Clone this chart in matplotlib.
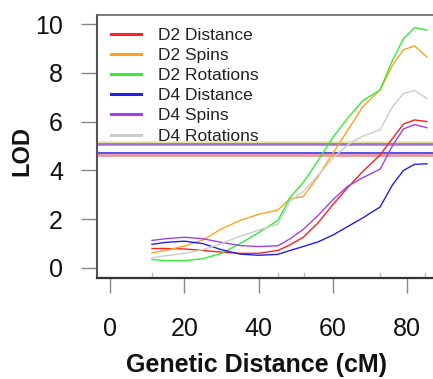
import numpy as np
import matplotlib
matplotlib.use('Agg')
import matplotlib.pyplot as plt

plt.rcParams['font.family'] = ['Liberation Sans', 'DejaVu Sans']

# positions along the chromosome (cM)
pos = [11.3, 15, 20, 25, 30, 35, 40, 45.2, 48.5, 52, 56, 60, 64, 68, 72.7, 76, 79, 82, 85.3]
markers = [11.3, 45.2, 52.1, 72.7, 84.9]

d2_dist = [0.80, 0.80, 0.78, 0.72, 0.65, 0.60, 0.60, 0.72, 0.95, 1.26, 1.85, 2.60, 3.30, 3.95, 4.63, 5.30, 5.90, 6.07, 6.00]
d2_spin = [0.62, 0.72, 0.90, 1.15, 1.60, 1.95, 2.20, 2.38, 2.85, 2.92, 3.75, 4.70, 5.65, 6.60, 7.30, 8.30, 8.95, 9.10, 8.65]
d2_rot = [0.35, 0.30, 0.30, 0.38, 0.60, 1.00, 1.45, 1.95, 2.90, 3.50, 4.40, 5.35, 6.15, 6.85, 7.30, 8.50, 9.40, 9.85, 9.75]
d4_dist = [0.97, 1.05, 1.10, 1.00, 0.75, 0.57, 0.52, 0.56, 0.72, 0.88, 1.07, 1.35, 1.70, 2.05, 2.50, 3.40, 4.00, 4.25, 4.27]
d4_spin = [1.13, 1.20, 1.26, 1.20, 1.05, 0.92, 0.88, 0.91, 1.20, 1.58, 2.15, 2.80, 3.35, 3.70, 4.05, 5.00, 5.70, 5.88, 5.75]
d4_rot = [0.42, 0.50, 0.60, 0.75, 1.00, 1.30, 1.55, 1.80, 2.75, 3.13, 3.80, 4.50, 5.05, 5.40, 5.66, 6.60, 7.15, 7.28, 6.95]

labels = ['D2 Distance', 'D2 Spins', 'D2 Rotations', 'D4 Distance', 'D4 Spins', 'D4 Rotations']
colors = ['#ff2020', '#ffa020', '#33ee33', '#2020ee', '#a040f0', '#cccccc']
series = [d2_dist, d2_spin, d2_rot, d4_dist, d4_spin, d4_rot]

# significance thresholds
thresh = [5.17, 5.14, 5.09, 4.72, 4.65]
thresh_col = ['#f0e8a0', '#a8c040', '#a070d8', '#5858e8', '#f08898']
thresh_lw = [1.2, 1.0, 1.8, 1.5, 1.8]

fig = plt.figure(figsize=(4.33, 3.79), dpi=100)
ax = fig.add_axes([97/433, 1-278/379, 1.0, (278-15)/379])

for y, c, w in zip(thresh, thresh_col, thresh_lw):
    ax.axhline(y, color=c, lw=w, zorder=1)

for s, c, l in zip(series, colors, labels):
    ax.plot(pos, s, color=c, lw=1.0, label=l, zorder=2)

for m in markers:
    ax.axvline(m, ymin=0, ymax=0.018, color='#bbbbbb', lw=1)

ax.set_xlim(-3.5, -3.5 + 433/3.715)
ax.set_ylim(-0.41, 10.37)
ax.set_xticks([0, 20, 40, 60, 80])
ax.set_yticks([0, 2, 4, 6, 8, 10])

ax.tick_params(axis='y', direction='out', length=11.5, width=1, color='#888888',
               pad=13, labelsize=18, labelcolor='#111111')
ax.tick_params(axis='x', direction='out', length=11, width=1, color='#888888',
               pad=17, labelsize=18, labelcolor='#111111')

ax.spines['right'].set_visible(False)
ax.spines['left'].set_color('#555555')
ax.spines['left'].set_linewidth(1.5)
ax.spines['top'].set_color('#666666')
ax.spines['top'].set_linewidth(1.2)
ax.spines['bottom'].set_color('#333333')
ax.spines['bottom'].set_linewidth(1.6)

fig.text(22/433, 1-151/379, 'LOD', rotation=90, ha='center', va='center',
         fontsize=17, fontweight='bold', color='#111111')
fig.text(256/433, 1-365/379, 'Genetic Distance (cM)', ha='center', va='center',
         fontsize=18, fontweight='bold', color='#111111')

leg = ax.legend(loc='upper left', bbox_to_anchor=(111/433, 1-27.5/379),
                bbox_transform=fig.transFigure, frameon=False, fontsize=12.5,
                handlelength=1.75, handletextpad=0.95, labelspacing=0.29,
                borderpad=0, borderaxespad=0)
for ln in leg.get_lines():
    ln.set_linewidth(2.2)
for t in leg.get_texts():
    t.set_color('#222222')

fig.savefig('out.png', dpi=100)
